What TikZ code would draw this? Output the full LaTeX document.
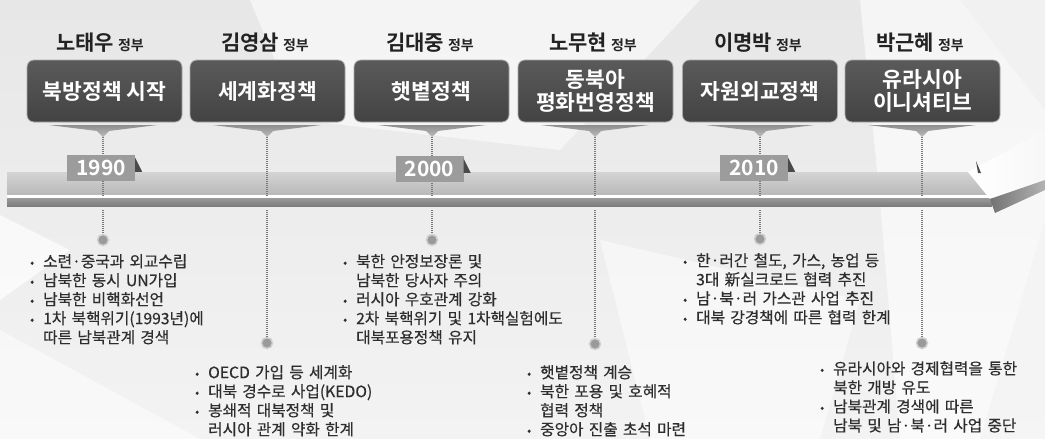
\documentclass[tikz,border=0pt]{standalone}
\usepackage{fontspec}
\newfontfamily\cjk{Noto Sans CJK KR}
\newfontfamily\cjkb{Noto Sans CJK KR Bold}
\newfontfamily\cjkm[UprightFeatures={FakeBold=0.4}, WordSpace=1.5]{Noto Sans CJK KR}
\usetikzlibrary{calc}
\definecolor{bgtop}{HTML}{E7E7E7}
\definecolor{bgbot}{HTML}{F3F3F3}
\definecolor{boxtop}{HTML}{5A5A5A}
\definecolor{boxbot}{HTML}{434343}
\definecolor{boxrim}{HTML}{A8A8A8}
\definecolor{ptrtop}{HTML}{8E8E8E}
\definecolor{ptrbot}{HTML}{BDBDBD}
\definecolor{tagfill}{HTML}{9C9C9C}
\definecolor{flag}{HTML}{4A4A4A}
\definecolor{bandtop}{HTML}{D4D4D4}
\definecolor{bandbot}{HTML}{B8B8B8}
\definecolor{stripetop}{HTML}{9A9A9A}
\definecolor{stripebot}{HTML}{7C7C7C}
\definecolor{dotline}{HTML}{7A7A7A}
\definecolor{dotfill}{HTML}{9A9A9A}
\definecolor{dotrim}{HTML}{D0D0D0}
\definecolor{txt}{HTML}{2E2E2E}
\definecolor{ttl}{HTML}{222222}
\newcommand\bul{\makebox[13pt][l]{\raisebox{0.5pt}{\scalebox{0.75}{•}}}}
\newcommand\ind{\hspace*{13pt}}
\tikzset{
  govbox/.style={rounded corners=7pt, minimum width=155pt, minimum height=62pt,
    top color=boxtop, bottom color=boxbot, draw=boxrim, line width=0.8pt,
    text=white, align=center, inner sep=2pt,
    font=\cjkb\fontsize{21.5}{23}\selectfont},
  govtitle/.style={text=ttl, inner sep=0pt, font=\cjkb},
  ptr/.style={top color=ptrtop, bottom color=ptrbot},
  yeartag/.style={fill=tagfill, minimum width=68pt, minimum height=26pt, inner sep=0pt,
    text=white, font=\cjkb\fontsize{21}{21}\selectfont},
  tl/.style={draw=dotline, line width=1.4pt, dash pattern=on 1pt off 1pt},
  tdot/.style={circle, fill=dotfill, draw=dotrim, line width=1.5pt, minimum size=11pt, inner sep=0pt},
  desc/.style={anchor=north west, align=left, inner sep=0pt, text=txt,
    font=\cjkm\fontsize{15.7}{19}\selectfont},
}
\newcommand\govtitle[1]{{\fontsize{21}{21}\selectfont #1}\hspace{4pt}{\fontsize{14}{14}\selectfont 정부}}
\begin{document}
\begin{tikzpicture}[x=1pt,y=-1pt]
\useasboundingbox (0,0) rectangle (1045,439);
% background
\shade[top color=bgtop, bottom color=bgbot] (0,0) rectangle (1045,439);
\fill[white,opacity=0.55] (250,0) -- (700,0) -- (560,150) -- (300,120) -- cycle;
\fill[white,opacity=0.6] (860,0) -- (1045,0) -- (1045,439) -- (900,439) -- (880,200) -- cycle;
\fill[black!6,opacity=0.7] (960,0) -- (1045,0) -- (1045,110) -- cycle;
\fill[black!5,opacity=0.6] (1045,220) -- (1045,439) -- (980,439) -- cycle;
\fill[white,opacity=0.7] (0,215) -- (70,250) -- (0,300) -- cycle;
\fill[white,opacity=0.5] (0,330) -- (200,439) -- (0,439) -- cycle;
\fill[white,opacity=0.5] (600,240) -- (860,300) -- (820,439) -- (650,439) -- cycle;

% timeline band
\shade[top color=bandtop, bottom color=bandbot] (7,172) rectangle (992,195);
\fill[white] (7,195) rectangle (992,198);
\shade[top color=stripetop, bottom color=stripebot] (7,198) rectangle (992,206);
% ribbon end
\shade[left color=white, right color=black!3] (968,172) -- (1045,130) -- (1045,180) -- (990,199) -- cycle;
\shade[left color=black!55, right color=black!30] (990,199) -- (1045,180) -- (1045,190) -- (995,213) -- cycle;
\fill[flag] (976,161) -- (981,173) -- (978,173) -- cycle;

% columns: titles, boxes
\node[govtitle] (h1) at (100,43) {\govtitle{노태우}};
\node[govtitle] (h2) at (265,43) {\govtitle{김영삼}};
\node[govtitle] (h3) at (430,43) {\govtitle{김대중}};
\node[govtitle] (h4) at (593,43) {\govtitle{노무현}};
\node[govtitle] (h5) at (758,43) {\govtitle{이명박}};
\node[govtitle] (h6) at (920,43) {\govtitle{박근혜}};

\node[govbox] (b1) at (104.5,91) {북방정책 시작};
\node[govbox] (b2) at (267.5,91) {세계화정책};
\node[govbox] (b3) at (431.5,91) {햇볕정책};
\node[govbox] (b4) at (595.5,91) {동북아\\평화번영정책};
\node[govbox] (b5) at (760,91) {자원외교정책};
\node[govbox] (b6) at (922.5,91) {유라시아\\이니셔티브};

% pointers, dotted lines, dots
\foreach \i/\c/\dy in {1/103/240, 2/267/343, 3/432/240, 4/595/344, 5/760/239, 6/922/343}{
  \shade[ptr] (\c-54,125) -- (\c+54,125) -- (\c+6,131) -- (\c,137) -- (\c-6,131) -- cycle;
  \coordinate (p\i) at (\c,137);
  \coordinate (u\i) at (\c,196);
  \coordinate (l\i) at (\c,210);
  \node[tdot] (d\i) at (\c,\dy) {};
  \draw[tl] (p\i) -- (u\i);
  \draw[tl] (l\i) -- (d\i.north);
}

% year tags
\node[yeartag] (y1) at (101,168) {1990};
\node[yeartag] (y3) at (429.5,169) {2000};
\node[yeartag] (y5) at (754,168) {2010};
\foreach \t in {y1,y3,y5}{
  \fill[flag] ($(\t.north east)+(0,3)$) -- ($(\t.north east)+(7,17)$) -- ($(\t.north east)+(0,17)$) -- cycle;
}

% descriptions
\node[desc] (t1) at (30,254) {\bul 소련·중국과 외교수립\\\bul 남북한 동시 UN가입\\\bul 남북한 비핵화선언\\\bul 1차 북핵위기(1993년)에\\\ind 따른 남북관계 경색};
\node[desc] (t2) at (195,365) {\bul OECD 가입 등 세계화\\\bul 대북 경수로 사업(KEDO)\\\bul 봉쇄적 대북정책 및\\\ind 러시아 관계 약화 한계};
\node[desc] (t3) at (343,254) {\bul 북한 안정보장론 및\\\ind 남북한 당사자 주의\\\bul 러시아 우호관계 강화\\\bul 2차 북핵위기 및 1차핵실험에도\\\ind 대북포용정책 유지};
\node[desc] (t4) at (527,365) {\bul 햇볕정책 계승\\\bul 북한 포용 및 호혜적\\\ind 협력 정책\\\bul 중앙아 진출 초석 마련};
\node[desc] (t5) at (683,253) {\bul 한·러간 철도, 가스, 농업 등\\\ind 3대 新실크로드 협력 추진\\\bul 남·북·러 가스관 사업 추진\\\bul 대북 강경책에 따른 협력 한계};
\node[desc] (t6) at (820,361) {\bul 유라시아와 경제협력을 통한\\\ind 북한 개방 유도\\\bul 남북관계 경색에 따른\\\ind 남북 및 남·북·러 사업 중단};
\end{tikzpicture}
\end{document}
